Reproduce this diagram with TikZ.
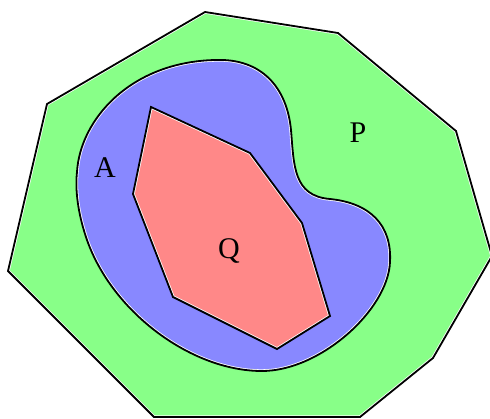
\documentclass[tikz,border=0pt]{standalone}
\usepackage{fontspec}
\setmainfont{Liberation Serif}
\definecolor{pgreen}{RGB}{136,255,136}
\definecolor{pblue}{RGB}{136,136,255}
\definecolor{pred}{RGB}{255,136,136}
\tikzset{
  outline/.style={draw=black, line width=1.8pt, line join=miter},
  glow/.style={draw=white, line width=3.4pt},
  lbl/.style={font=\fontsize{30}{36}\selectfont, inner sep=0pt, anchor=base}
}
\def\greenpath{(205,12) -- (338,33) -- (456,131) -- (492,256) -- (433,358) -- (360,417) -- (154,417) -- (8,271) -- (47,104) -- cycle}
\def\bluepath{(215,60) .. controls (262,58) and (287,88) .. (291,130)
  .. controls (294,165) and (293,196) .. (330,199)
  .. controls (370,203) and (392,225) .. (390,262)
  .. controls (388,310) and (320,371) .. (262,371)
  .. controls (190,371) and (110,310) .. (86,237)
  .. controls (78,213) and (75,190) .. (77,172)
  .. controls (80,120) and (130,62) .. (215,60) -- cycle}
\def\redpath{(151,107) -- (250,153) -- (302,223) -- (330,316) -- (277,349) -- (173,297) -- (133,194) -- cycle}
\begin{document}
\begin{tikzpicture}[x=1pt,y=-1pt]
\useasboundingbox (0,0) rectangle (490,418);
\clip (0,0) rectangle (490,418);
% green region P
\fill[pgreen] \greenpath;
\begin{scope}\clip \greenpath; \draw[glow] \greenpath; \end{scope}
\draw[outline] \greenpath;
% blue region A
\fill[pblue] \bluepath;
\begin{scope}\clip \bluepath; \draw[glow] \bluepath; \end{scope}
\draw[outline] \bluepath;
% red region Q
\fill[pred] \redpath;
\begin{scope}\clip \redpath; \draw[glow] \redpath; \end{scope}
\draw[outline] \redpath;
% labels
\node[lbl] (A) at (105,177) {A};
\node[lbl] (P) at (358,142) {P};
\node[lbl] (Q) at (229,258) {Q};
\end{tikzpicture}
\end{document}
